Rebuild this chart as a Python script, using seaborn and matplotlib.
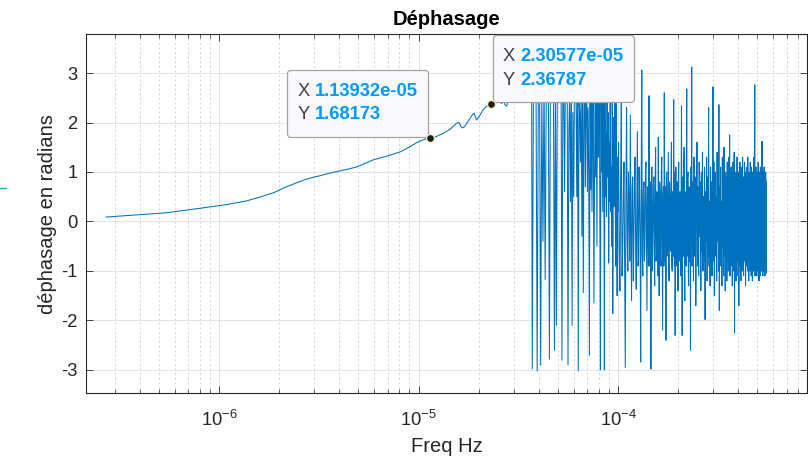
import numpy as np
import pandas as pd
import matplotlib
matplotlib.use("Agg")
import matplotlib.pyplot as plt
import seaborn as sns
from matplotlib.offsetbox import TextArea, HPacker, VPacker, AnnotationBbox, DrawingArea
from matplotlib.ticker import LogLocator, NullFormatter
from matplotlib.lines import Line2D

# ---------------- data ----------------
sample_period_s = 900.0
n_fft = 4096
df_hz = 1.0 / (n_fft * sample_period_s)   # FFT bin spacing

# low-frequency part (FFT bin index -> phase, rad)
smooth_bins = [1, 2, 3, 4, 5, 6, 7, 8, 9, 10, 11, 12, 13, 14, 16, 18, 20, 22, 24, 26,
               28, 30, 32, 34, 36, 38, 40,
               42, 43, 44, 45, 46, 47, 48, 49, 50, 51, 52, 53, 54, 55, 56, 57, 58, 59,
               60, 61, 62, 63, 64, 65, 66, 67, 68, 69, 70, 71, 72, 73, 74, 75, 76, 77,
               78, 79, 80, 81, 82, 83, 84, 85,
               86, 88, 90, 92, 94, 96, 98, 100, 102, 104, 106, 108, 110, 112, 114, 116,
               118, 120, 122, 124, 126, 128, 130, 132, 134, 136]
smooth_phase = [0.09, 0.175, 0.27, 0.34, 0.41, 0.50, 0.59, 0.70, 0.78, 0.85, 0.895, 0.93,
                0.97, 1.00, 1.05, 1.10, 1.18, 1.25, 1.29, 1.33, 1.37, 1.41, 1.47, 1.53,
                1.59, 1.63, 1.67,
                1.68173, 1.69, 1.70, 1.71, 1.73, 1.75, 1.76, 1.78, 1.80, 1.82, 1.84, 1.86,
                1.89, 1.92, 1.95, 1.98, 2.00, 1.99, 1.93, 1.89, 1.90, 1.93, 1.97, 2.01,
                2.05, 2.09, 2.13, 2.17, 2.19, 2.12, 2.05, 2.08, 2.12, 2.15, 2.19, 2.23,
                2.26, 2.29, 2.31, 2.33, 2.34, 2.35, 2.36, 2.36787,
                2.40, 2.38, 2.43, 2.40, 2.44, 2.38, 2.45, 2.36, 2.33, 2.48, 2.55, 2.50,
                2.60, 2.55, 2.65, 2.60, 2.70, 2.62, 2.75, 2.70, 2.80, 2.72, 2.85, 2.78,
                2.90, 2.95]

# wrapping / noisy part, every 2nd bin from bin 137
wild_first_bin, wild_bin_step = 137, 2
wild_phase = [
    -2.98, 2.90, 2.70, 3.05, -3.02, 2.80, 3.10, -2.90, 2.60, -0.40,
    2.90, -1.17, 2.50, 3.00, 2.70, -2.78, 2.95, 2.60, 3.05, 2.80,
    -2.60, 2.70, -2.10, 2.90, 3.00, 2.50, 2.85, 3.10, -2.80, 2.60,
    2.75, 0.60, 2.90, 2.50, 3.00, -2.90, 1.80, 2.60, 0.40, 2.90,
    -2.10, 2.20, 0.50, 2.80, 3.00, 2.60, 0.50, 2.90, -3.02, 2.40,
    2.26, 1.20, 2.80, -0.30, 2.50, -1.44, 2.26, 2.90, 0.70, 2.50,
    2.80, 0.60, 2.30, 1.10, -2.70, 2.60, 0.64, 2.90, 0.20, 2.20,
    2.70, -1.65, 0.64, 2.80, 0.90, 2.50, -0.50, 2.90, 1.30, 2.40,
    2.90, 0.30, -3.00, 2.60, 1.00, 2.70, 0.20, 2.90, 1.40, -3.00,
    2.50, 0.50, 1.80, 0.10, 2.60, 0.90, 2.20, -0.84, 1.60, 0.40,
    2.80, 0.20, 1.10, -0.50, 2.40, -1.86, 1.00, 2.10, 0.30, 2.90,
    0.60, -0.90, 2.50, 1.10, -1.50, 1.30, 0.20,
]

# noise band, part A: every 3rd bin from bin 371
band_a_first_bin, band_a_bin_step = 371, 3
band_a_phase = [
    1.60, -0.70, -1.40, 0.90, 2.40, -1.10, -0.60, 0.50, 1.20, -0.90,
    -2.95, 0.60, 2.30, -0.40, -1.00, 1.00, 0.40, -0.80, 2.15, -0.30,
    -1.60, 0.70, 0.90, -1.20, -0.30, 0.80, 1.30, -0.60, -1.37, 0.40,
    1.82, -0.90, -0.80, 1.10, 0.60, -0.50, -2.84, 0.90, 3.06, -0.70,
    -1.10, 0.60, 0.80, -0.80, -0.50, 1.00, 1.20, -0.40, -1.80, 0.70,
    0.30, -0.90, 2.54, -0.60, -0.90, 0.80, -2.98, 0.50, 1.10, -1.00,
    -0.40, 0.70, 0.90, -0.50, -1.30, 0.90, 1.50, -0.80, -0.70, 0.60,
    0.20, -1.10, 1.70, -0.40, -1.50, 0.80, 0.60, -0.70, -0.90, 1.00,
    1.30, -0.60, -2.20, 0.50, 0.70, -0.90, 2.60, -0.50, -0.80, 0.70,
    -2.40, 0.90, 1.00, -0.70, -0.30, 0.60, 1.40, -1.00, -1.20, 0.80,
    0.50, -0.40, -0.60, 0.90, 1.60, -0.80, -1.00, 0.60, 0.30, -0.70,
    2.46, -0.50, -0.90, 1.00, -2.30, 0.40, 1.10, -0.90, -0.50, 0.70,
    0.80, -0.60, -1.40, 0.90, 1.20, -0.80, -0.20, 0.50, 0.60, -1.00,
    -1.10, 0.70, 2.34, -0.40, -2.30, 0.80, 0.90, -0.60, -0.70, 1.10,
    1.50, -0.90, -1.60, 0.60, 0.40, -0.50, -0.90, 0.80, 2.68, -0.70,
    -0.40, 0.90, 1.00, -1.00, -1.30, 0.50, 0.70, -0.80, -0.60, 0.60,
    -2.60, 0.70, 1.10, -0.40, 3.12, -0.90, -0.80, 0.80, 0.50, -0.60,
    -1.20, 1.00, 1.30, -0.70, -0.50, 0.60, 0.90,
]

# noise band, part B: every 6th bin from bin 905
band_b_first_bin, band_b_bin_step = 905, 6
band_b_phase = [
    -1.70,
    0.30, 1.60, -0.90, 0.70, -1.10, 1.20, -0.30, 0.80, -1.40, 1.00,
    -0.60, 1.40, -1.00, 0.50, -0.80, 1.10, -1.98, 0.60, -0.40, 1.30,
    -1.20, 0.90, -0.70, 2.30, -0.90, 0.40, -1.30, 1.10, -0.50, 0.80,
    -1.10, 0.60, 2.72, -0.80, 1.20, -1.50, 0.30, 1.00, -0.70, 0.50,
    -1.20, 1.40, -0.40, 0.90, -1.00, 2.36, -1.80, 0.70, -0.60, 1.10,
    -0.90, 0.40, -1.30, 1.30, -0.50, 0.80, -1.10, 1.50, -0.70, 0.60,
    -1.40, 1.00, -0.30, 0.90, -1.20, 1.20, -0.80, 0.50, -1.00, 1.30,
    -0.60, 1.75, -1.10, 0.70, -0.90, 1.10, -0.40, 0.80, -1.30, 1.20,
    -0.70, 0.50, -1.00, 1.40, -2.25, 0.60, -0.50, 1.00, -1.20, 0.90,
    -0.80, 1.30, -0.40, 0.70, -1.10, 1.00, -1.70, 0.60, -0.90, 1.20,
    -0.50, 0.80, -1.20, 1.10, -0.70, 0.40, -1.00, 1.30, -0.60, 0.90,
    -1.10, 0.70, -0.80, 1.20, -0.50, 1.00, -1.30, 0.60, -0.90, 1.10,
    -0.40, 0.80, -1.00, 1.30, -0.70, 0.50, -1.20, 1.00, -0.60, 0.90,
    -1.00, 1.20, -0.50, 0.70, -1.10, 1.10, -0.80, 0.60, -1.20, 1.00,
    -0.40, 0.90, -1.00, 1.30, -0.60, 0.80, 2.76, -1.10, 0.50, -0.90,
    1.10, -0.70, 0.90, -1.10, 1.00, -0.50, 0.70, -1.00, 1.20, -0.80,
    0.60, -1.20, 1.00, -0.40, 0.80, -1.10, 1.10, -0.60, 0.90, -1.00,
    1.00, -0.70, 1.62, -0.90, 0.80, -1.10, 1.00, -0.50, 0.90, -1.00,
    1.10, -0.80, 0.70, -1.10, 0.90, -0.60, 1.00, -1.00, 0.80, -1.05,
]

# data tips
tip_freq = [1.13932e-05, 2.30577e-05]
tip_phase = [1.68173, 2.36787]

title_text = "Déphasage"
x_label = "Freq Hz"
y_label = "déphasage en radians"
y_ticks = [-3, -2, -1, 0, 1, 2, 3]
x_limits = (2.154e-7, 8.9e-4)
y_limits = (-3.465, 3.782)

# ---------------- assemble ----------------
bins = np.concatenate([
    np.asarray(smooth_bins, dtype=float),
    wild_first_bin + wild_bin_step * np.arange(len(wild_phase)),
    band_a_first_bin + band_a_bin_step * np.arange(len(band_a_phase)),
    band_b_first_bin + band_b_bin_step * np.arange(len(band_b_phase)),
])
phase = np.concatenate([smooth_phase, wild_phase, band_a_phase, band_b_phase])
df = pd.DataFrame({"freq": bins * df_hz, "phase": phase})

# ---------------- style ----------------
sns.set_style("ticks")
plt.rcParams["font.family"] = ["Liberation Sans", "DejaVu Sans"]
plt.rcParams["mathtext.fontset"] = "custom"
plt.rcParams["mathtext.rm"] = "Liberation Sans"
plt.rcParams["mathtext.it"] = "Liberation Sans:italic"
plt.rcParams["mathtext.bf"] = "Liberation Sans:bold"

TXT = "#262626"
LINE = "#0072BD"

fig = plt.figure(figsize=(8.08, 4.57), dpi=100)
W, H = 808.0, 457.0
ax = fig.add_axes([86 / W, 1 - 393 / H, (807.4 - 86) / W, (393 - 34.3) / H])

sns.lineplot(data=df, x="freq", y="phase", ax=ax, color=LINE, linewidth=0.75,
             estimator=None, sort=False, zorder=3)

ax.set_xscale("log")
ax.set_xlim(*x_limits)
ax.set_ylim(*y_limits)
ax.xaxis.set_major_locator(LogLocator(base=10, numticks=20))
ax.xaxis.set_minor_locator(LogLocator(base=10, subs=np.arange(2, 10), numticks=20))
ax.xaxis.set_minor_formatter(NullFormatter())
ax.set_yticks(y_ticks)
ax.set_yticklabels([str(v) for v in y_ticks])

ax.grid(True, which="major", color="#dedede", linewidth=0.6, linestyle="-")
ax.grid(True, which="minor", axis="x", color="#cdcdcd", linewidth=0.55,
        linestyle=(0, (3, 3)))
ax.set_axisbelow(True)

ax.tick_params(which="both", direction="in", top=True, right=True,
               colors=TXT, labelcolor=TXT)
ax.tick_params(which="major", length=5, width=0.6, labelsize=13.2)
ax.tick_params(which="minor", length=2.8, width=0.5)
ax.tick_params(axis="x", which="major", pad=12.5)
ax.tick_params(axis="y", which="major", pad=6)
for s in ax.spines.values():
    s.set_color(TXT)
    s.set_linewidth(0.8)

ax.set_title(title_text, fontsize=14.5, fontweight="bold", color="black", pad=6.5)
ax.set_xlabel(x_label, fontsize=14.5, color=TXT, labelpad=4.5)
ax.set_ylabel(y_label, fontsize=14.5, color=TXT, labelpad=3)

# data tip markers
sns.scatterplot(x=tip_freq, y=tip_phase, ax=ax, s=32, color="#1c1c1c",
                edgecolor="#f3eeb0", linewidth=0.9, zorder=12, legend=False)

# data tip boxes
def datatip(xv, yv, align, offset):
    lab = dict(color="#404040", fontsize=13.2)
    val = dict(color="#0099FF", fontsize=13.2, fontweight="bold")
    row1 = HPacker(children=[TextArea("X", textprops=lab),
                             TextArea(f"{xv:g}", textprops=val)], sep=4, pad=0, align="baseline")
    row2 = HPacker(children=[TextArea("Y", textprops=lab),
                             TextArea(f"{yv:g}", textprops=val)], sep=4, pad=0, align="baseline")
    inner = VPacker(children=[row1, row2], sep=4.5, pad=0, align="left")
    col = VPacker(children=[DrawingArea(1, 0), inner, DrawingArea(1, 0)],
                  sep=2.2, pad=7.3, align="left")
    ab = AnnotationBbox(col, (xv, yv), xybox=offset, xycoords="data",
                        boxcoords="offset points", box_alignment=align, pad=0,
                        frameon=True,
                        bboxprops=dict(boxstyle="round,pad=0,rounding_size=0.25",
                                       facecolor="#f9f9fd", edgecolor="#a3a3a3",
                                       linewidth=0.9))
    ab.set_zorder(10)
    ax.add_artist(ab)

datatip(tip_freq[0], tip_phase[0], (1, 0), (-1.2, 1.2))
datatip(tip_freq[1], tip_phase[1], (0, 0), (1.2, 1.8))

# small marker remnant at left edge of the screenshot
fig.add_artist(Line2D([0, 6 / W], [1 - 188 / H, 1 - 188 / H], transform=fig.transFigure,
                      color="#2a9fd6", linewidth=1.0))

fig.savefig("out.png", dpi=100)
